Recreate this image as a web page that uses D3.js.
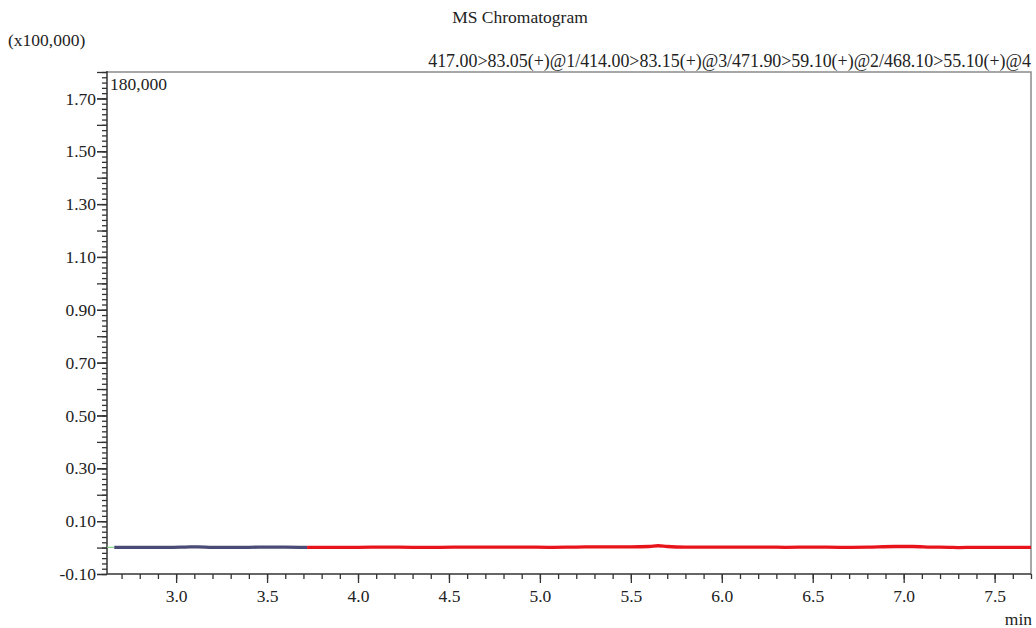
<!DOCTYPE html>
<html>
<head>
<meta charset="utf-8">
<script src="https://cdn.jsdelivr.net/npm/d3@7"></script>
<style>
  html, body { margin: 0; padding: 0; background: #fff; }
</style>
</head>
<body>
<svg id="chart" width="1036" height="628"></svg>
<script>
// ---- data (intensity in units of x100,000; time in min) ----
const title = "MS Chromatogram";
const yUnitLabel = "(x100,000)";
const channelLabel = "417.00>83.05(+)@1/414.00>83.15(+)@3/471.90>59.10(+)@2/468.10>55.10(+)@4";
const maxLabel = "180,000";
const xUnitLabel = "min";

const xDomain = [2.62, 7.70];
const yDomain = [-0.10, 1.80];
const xTickLabels = [3.0, 3.5, 4.0, 4.5, 5.0, 5.5, 6.0, 6.5, 7.0, 7.5];
const yTickLabels = [-0.10, 0.10, 0.30, 0.50, 0.70, 0.90, 1.10, 1.30, 1.50, 1.70];

const greenTimes  = [2.62, 2.66];
const greenValues = [0.001, 0.001];

const blueTimes  = [2.66, 2.75, 2.85, 2.95, 3.05, 3.12, 3.20, 3.30, 3.40, 3.50, 3.60, 3.72];
const blueValues = [0.001, 0.001, 0.001, 0.001, 0.002, 0.003, 0.001, 0.001, 0.001, 0.002, 0.002, 0.001];

const redTimes  = [3.72, 3.85, 4.00, 4.15, 4.30, 4.45, 4.60, 4.75, 4.90, 5.05, 5.20, 5.35,
                   5.50, 5.60, 5.65, 5.70, 5.80, 5.95, 6.10, 6.25, 6.35, 6.50, 6.65, 6.80,
                   6.95, 7.05, 7.15, 7.25, 7.30, 7.40, 7.55, 7.70];
const redValues = [0.001, 0.001, 0.001, 0.002, 0.001, 0.001, 0.002, 0.002, 0.002, 0.001, 0.002, 0.003,
                   0.003, 0.004, 0.007, 0.004, 0.002, 0.002, 0.002, 0.002, 0.001, 0.002, 0.001, 0.002,
                   0.004, 0.004, 0.002, 0.001, 0.000, 0.001, 0.001, 0.001];

// ---- layout ----
const svg = d3.select("#chart");
const L = 107, R = 1031, T = 72, B = 574;
const FS = 17.5;
const FONT = "Liberation Serif";
const fmt2 = v => d3.format(".2f")(v).replace("\u2212", "-");
const fmt1 = v => d3.format(".1f")(v).replace("\u2212", "-");

const x = d3.scaleLinear().domain(xDomain).range([L, R]);
const y = d3.scaleLinear().domain(yDomain).range([B, T]);

// frame: top & right (lighter)
svg.append("path")
  .attr("d", `M${L},${T}H${R}V${B}`)
  .attr("fill", "none").attr("stroke", "#8a8a8a").attr("stroke-width", 1.5);

// y axis
const yMinor = d3.range(-0.10, 1.801, 0.02).map(v => +v.toFixed(2));
const yMajor = d3.range(-0.10, 1.801, 0.10).map(v => +v.toFixed(2));
const gy = svg.append("g").attr("transform", `translate(${L},0)`);
gy.call(d3.axisLeft(y).tickValues(yMinor).tickSize(5).tickFormat(""))
  .call(g => g.select(".domain").remove());
gy.append("g").call(d3.axisLeft(y).tickValues(yMajor).tickSize(10).tickFormat(""))
  .call(g => g.select(".domain").remove());
gy.append("g").call(d3.axisLeft(y).tickValues(yTickLabels).tickSize(10).tickPadding(1)
    .tickFormat(fmt2))
  .call(g => g.select(".domain").remove());
gy.selectAll("line").attr("stroke", "#333").attr("stroke-width", 1.3);
gy.selectAll("text").attr("font-size", FS).attr("fill", "#222").style("font-family", FONT);
svg.append("line").attr("x1", L).attr("x2", L).attr("y1", T - 1).attr("y2", B)
  .attr("stroke", "#333").attr("stroke-width", 1.5);

// x axis
const xMinor = d3.range(2.7, 7.701, 0.1).map(v => +v.toFixed(1));
const gx = svg.append("g").attr("transform", `translate(0,${B})`);
gx.call(d3.axisBottom(x).tickValues(xMinor).tickSize(5).tickFormat(""))
  .call(g => g.select(".domain").remove());
gx.append("g").call(d3.axisBottom(x).tickValues(xTickLabels).tickSize(9).tickPadding(7)
    .tickFormat(fmt1))
  .call(g => g.select(".domain").remove());
gx.selectAll("line").attr("stroke", "#333").attr("stroke-width", 1.3);
gx.selectAll("text").attr("font-size", FS).attr("fill", "#222").style("font-family", FONT);
svg.append("line").attr("x1", L).attr("x2", R).attr("y1", B).attr("y2", B)
  .attr("stroke", "#333").attr("stroke-width", 1.5);

// traces
const line = d3.line().x(d => x(d[0])).y(d => y(d[1])).curve(d3.curveMonotoneX);
function trace(times, values, color, w) {
  svg.append("path")
    .datum(times.map((t, i) => [t, values[i]]))
    .attr("d", line)
    .attr("fill", "none").attr("stroke", color)
    .attr("stroke-width", w).attr("stroke-linejoin", "round");
}
trace(greenTimes, greenValues, "#7fd07f", 1.2);
trace(blueTimes, blueValues, "#4b4b78", 3.3);
trace(redTimes, redValues, "#e8141c", 3.3);

// texts
function label(xp, yp, txt, anchor, size) {
  svg.append("text").attr("x", xp).attr("y", yp).attr("text-anchor", anchor)
    .attr("font-size", size).attr("fill", "#222").style("font-family", FONT).text(txt);
}
label(520, 23, title, "middle", FS);
label(8, 46, yUnitLabel, "start", FS);
label(1031, 67, channelLabel, "end", 17.9);
label(110, 90, maxLabel, "start", FS);
label(1032, 625, xUnitLabel, "end", FS);
</script>
</body>
</html>
